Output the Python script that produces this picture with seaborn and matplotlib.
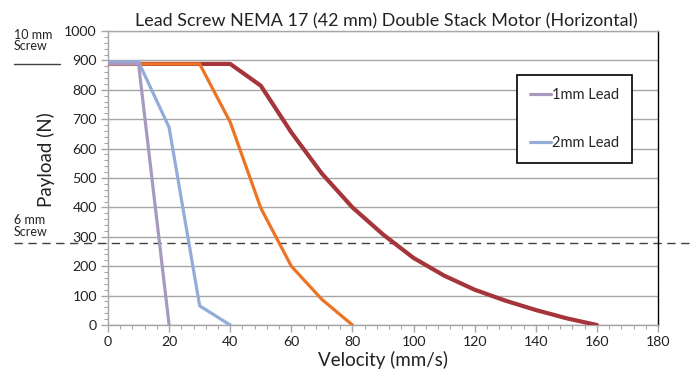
import matplotlib
matplotlib.use("Agg")
import matplotlib.pyplot as plt
import seaborn as sns
import pandas as pd
from matplotlib.ticker import MultipleLocator
from matplotlib.lines import Line2D

sns.set_style("white")
plt.rcParams['font.family'] = ['Lato', 'DejaVu Sans']

# Data (velocity mm/s, payload N)
vel_1mm = [0, 10, 20]
load_1mm = [888, 888, 0]
vel_2mm = [0, 10, 20, 30, 40]
load_2mm = [895, 895, 672, 65, 0]
vel_6mm = [0, 30, 40, 50, 60, 70, 80]
load_6mm = [888, 888, 690, 398, 200, 87, 0]
vel_10mm = [0, 40, 50, 60, 70, 80, 90, 100, 110, 120, 130, 140, 150, 160]
load_10mm = [888, 888, 814, 655, 515, 400, 308, 228, 168, 120, 83, 51, 23, 0]

screw6_limit = 278
screw10_limit = 888

title = "Lead Screw NEMA 17 (42 mm) Double Stack Motor (Horizontal)"

fig = plt.figure(figsize=(6.9, 3.73), dpi=100)
ax = fig.add_axes([108/690, 1-325/373, 550/690, 294/373])

c_red = "#A5353A"
c_orange = "#EE7425"
c_blue = "#93ACD8"
c_purple = "#A799C0"

sns.lineplot(x=vel_10mm, y=load_10mm, ax=ax, color=c_red, lw=3.0, zorder=3)
sns.lineplot(x=vel_6mm, y=load_6mm, ax=ax, color=c_orange, lw=2.3, zorder=4)
sns.lineplot(x=vel_2mm, y=load_2mm, ax=ax, color=c_blue, lw=2.3, zorder=5)
sns.lineplot(x=vel_1mm, y=load_1mm, ax=ax, color=c_purple, lw=2.3, zorder=6)

ax.set_xlim(0, 180)
ax.set_ylim(0, 1000)
ax.xaxis.set_major_locator(MultipleLocator(20))
ax.xaxis.set_minor_locator(MultipleLocator(4))
ax.yaxis.set_major_locator(MultipleLocator(100))
ax.yaxis.set_minor_locator(MultipleLocator(20))
ax.grid(axis='y', color="#A6A6A6", lw=1.0, zorder=0)
ax.set_axisbelow(True)

for s in ['left', 'bottom', 'top']:
    ax.spines[s].set_color("#A6A6A6")
    ax.spines[s].set_linewidth(1.0)
ax.spines['right'].set_color("#000000")
ax.spines['right'].set_linewidth(1.0)

ax.tick_params(axis='both', which='major', direction='out', length=5, width=1,
               color="#A6A6A6", labelsize=10.2, labelcolor="#222222", pad=3,
               bottom=True, left=True)
ax.tick_params(axis='both', which='minor', direction='out', length=3, width=0.8,
               color="#A6A6A6", bottom=True, left=True)

fig.text(386/690, 1-21/373, title, fontsize=12.9, color="#222222",
         ha='center', va='center')
ax.set_xlabel("Velocity (mm/s)", fontsize=13.5, color="#222222", labelpad=2)
ax.set_ylabel("Payload (N)", fontsize=13.5, color="#222222")
ax.yaxis.set_label_coords(-0.096, 0.561)

# screw limit annotations
trans = ax.get_yaxis_transform()
ax.plot([-0.171, 1.058], [screw6_limit, screw6_limit], transform=trans,
        color="#404040", lw=1.0, ls=(0, (6, 4)), clip_on=False, zorder=2)
ax.plot([-0.171, -0.087], [screw10_limit, screw10_limit], transform=trans,
        color="#404040", lw=1.0, clip_on=False)
fig.text(14/690, 1-29/373, "10 mm\nScrew", fontsize=9, color="#222222",
         va='top', ha='left', linespacing=0.95)
fig.text(14/690, 1-214/373, "6 mm\nScrew", fontsize=9, color="#222222",
         va='top', ha='left', linespacing=0.95)

handles = [Line2D([0], [0], color=c_purple, lw=2.3),
           Line2D([0], [0], color=c_blue, lw=2.3)]
leg = fig.legend(handles, ["1mm Lead", "2mm Lead"], loc='upper left',
                 bbox_to_anchor=(517/690, 1-75/373), fontsize=10.5,
                 frameon=True, fancybox=False, edgecolor="#000000",
                 framealpha=1, handlelength=1.4, handletextpad=0.1,
                 labelspacing=2.3, borderpad=0.9, borderaxespad=0)
leg.get_frame().set_linewidth(1.2)

fig.savefig("out.png", dpi=100)
